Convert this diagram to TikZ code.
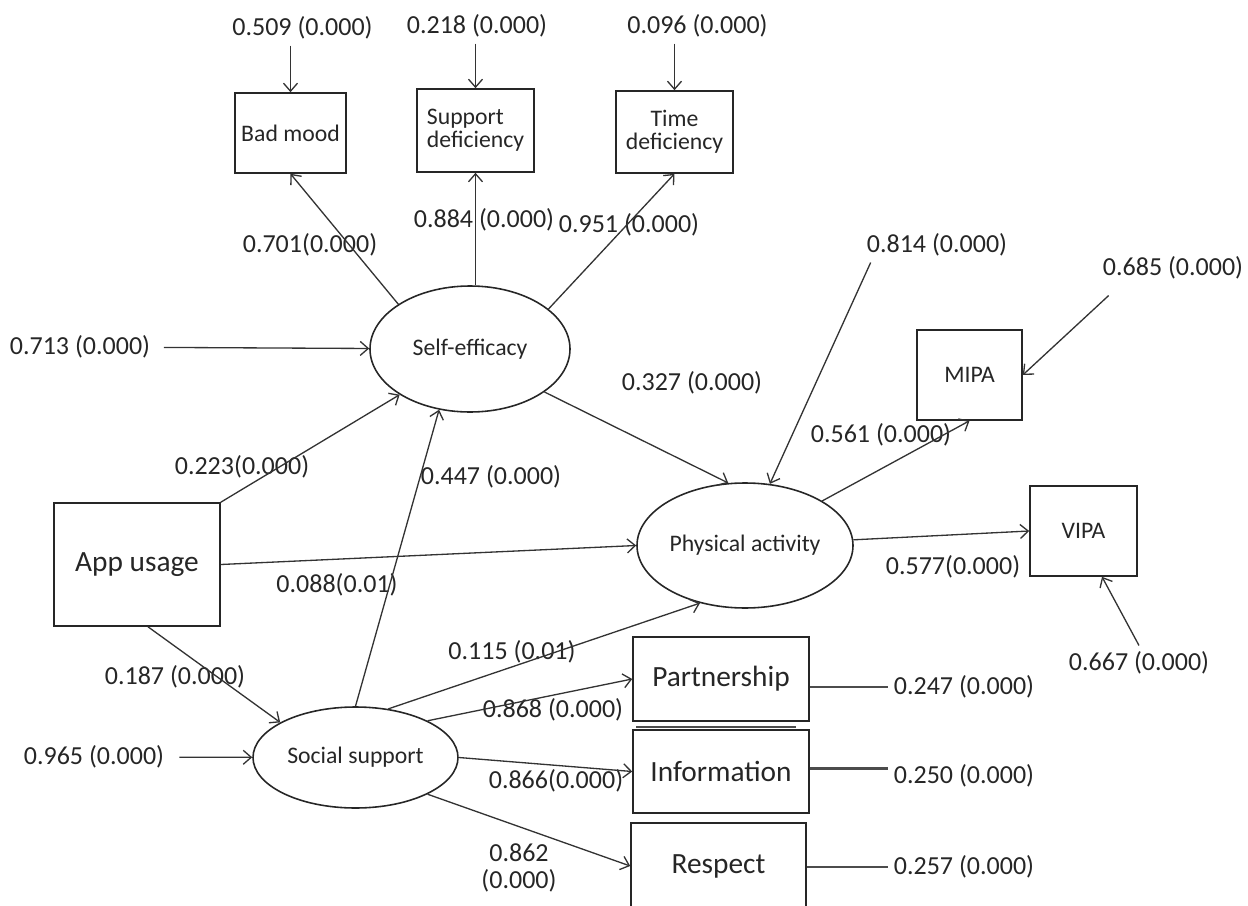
\documentclass[tikz,border=0pt]{standalone}
\usepackage{fontspec}
\setmainfont{Carlito}
\usetikzlibrary{arrows.meta,shapes.geometric}

\newcommand{\numfont}{\fontsize{14.8}{15}\selectfont}
\newcommand{\labfont}{\fontsize{13.5}{13.2}\selectfont}
\newcommand{\bigfont}{\fontsize{16.7}{19}\selectfont}

\tikzset{
  box/.style 2 args={draw=black!85, line width=0.9pt, minimum width=#1, minimum height=#2, inner sep=1pt, font=\labfont, text=black!85},
  latent/.style 2 args={ellipse, draw=black!85, line width=0.9pt, minimum width=#1, minimum height=#2, inner sep=0pt, font=\labfont, text=black!85},
  num/.style={font=\numfont, text=black!85},
  link/.style={-{Straight Barb[length=1.6mm,width=2.8mm]}, draw=black!80, line width=0.75pt},
  err/.style={draw=black!70, line width=1.2pt},
}

\begin{document}
\begin{tikzpicture}[x=0.2mm, y=-0.2mm]
\useasboundingbox (0,0) rectangle (1248,906);

\node[box={22.2mm}{16mm}] (bad) at (290.5,133) {Bad mood};
\node[box={23.4mm}{16.6mm}, align=left] (supp) at (475.5,130.5) {Support\\deficiency};
\node[box={23.4mm}{16.4mm}, align=center] (time) at (674.5,132) {Time\\deficiency};

\node[latent={40mm}{25.2mm}] (se) at (470,349) {Self-efficacy};
\node[latent={43.2mm}{25mm}] (pa) at (745,545.5) {Physical activity};
\node[latent={41mm}{20.2mm}] (ss) at (355.5,757.5) {Social support};

\node[box={33.2mm}{24.6mm}, font=\bigfont] (app) at (137,564.5) {App usage};
\node[box={21mm}{18mm}] (mipa) at (969.5,375) {MIPA};
\node[box={21.4mm}{18mm}] (vipa) at (1083.5,531) {VIPA};
\node[box={35.2mm}{16.8mm}, font=\bigfont] (part) at (721,679) {Partnership};
\node[box={35.2mm}{16.6mm}, font=\bigfont] (info) at (721,771.5) {Information};
\node[box={35mm}{17.2mm}, font=\bigfont] (resp) at (718.5,866) {Respect};

% residuals
\node[num] (r509) at (302.5,28) {0.509 (0.000)};
\node[num] (r218) at (477,26) {0.218 (0.000)};
\node[num] (r096) at (697.5,26) {0.096 (0.000)};
\node[num] (r713) at (80,347) {0.713 (0.000)};
\node[num] (r965) at (94,757) {0.965 (0.000)};
\node[num] (r814) at (937,245) {0.814 (0.000)};
\node[num] (r685) at (1173,268) {0.685 (0.000)};
\node[num] (r667) at (1139,663) {0.667 (0.000)};
\node[num] (r247) at (964,687) {0.247 (0.000)};
\node[num] (r250) at (964,776) {0.250 (0.000)};
\node[num] (r257) at (964,867) {0.257 (0.000)};

% path coefficients
\node[num] (l701) at (310,245) {0.701(0.000)};
\node[num] (l884) at (484,220) {0.884 (0.000)};
\node[num] (l951) at (629,225) {0.951 (0.000)};
\node[num] (l223) at (242,467) {0.223(0.000)};
\node[num] (l447) at (491,477) {0.447 (0.000)};
\node[num] (l327) at (692,383) {0.327 (0.000)};
\node[num] (l088) at (337,585) {0.088(0.01)};
\node[num] (l187) at (175,677) {0.187 (0.000)};
\node[num] (l115) at (512,652) {0.115 (0.01)};
\node[num] (l868) at (553,710) {0.868 (0.000)};
\node[num] (l866) at (556,781) {0.866(0.000)};
\node[num, align=center] (l862) at (519,868) {0.862\\(0.000)};
\node[num] (l561) at (881,435) {0.561 (0.000)};
\node[num] (l577) at (953,567) {0.577(0.000)};

\draw[link] (r509.south -| bad.north) -- (bad.north);
\draw[link] (r218.south -| supp.north) -- (supp.north);
\draw[link] (r096.south -| time.north) -- (time.north);
\draw[link] (se.148) -- (bad.south);
\draw[link] (se.north -| supp.south) -- (supp.south);
\draw[link] (se.27) -- (time.south);
\draw[link, shorten <=1.5mm] (r713) -- (se);
\draw[link] (app.north east) -- (se.213);
\draw[link] (ss.north) -- (se.243);
\draw[link] (se.-30) -- (pa.105);
\draw[link] (app.east) -- (pa.west);
\draw[link] (app.-80) -- (ss.155);
\draw[link, shorten <=1.8mm] (r965) -- (ss);
\draw[link] (ss.56) -- (pa.232);
\draw[link] (ss.27) -- (part.west);
\draw[link] (ss.east) -- (info.west);
\draw[link] (ss.-27) -- (resp.west);
\draw[link] (pa.30) -- (mipa.south);
\draw[link] (pa.3) -- (vipa.west);
\draw[link] ([xshift=2mm]r814.south west) -- (pa.68);
\draw[link] ([xshift=2.4mm,yshift=-2mm]r685.south west) -- (mipa.east);
\draw[link] (r667.north) -- (vipa.-68);

\draw[err] (r247.west -| part.east) -- (r247.west);
\draw[err] ([yshift=0.6mm]info.east) -- ([yshift=0.6mm]info.east -| r250.west);
\draw[err] (r257.west -| resp.east) -- (r257.west);
\draw[err] ([xshift=0.8mm,yshift=0.4mm]info.north west) -- ([xshift=-2.8mm,yshift=0.4mm]info.north east);

\end{tikzpicture}
\end{document}
